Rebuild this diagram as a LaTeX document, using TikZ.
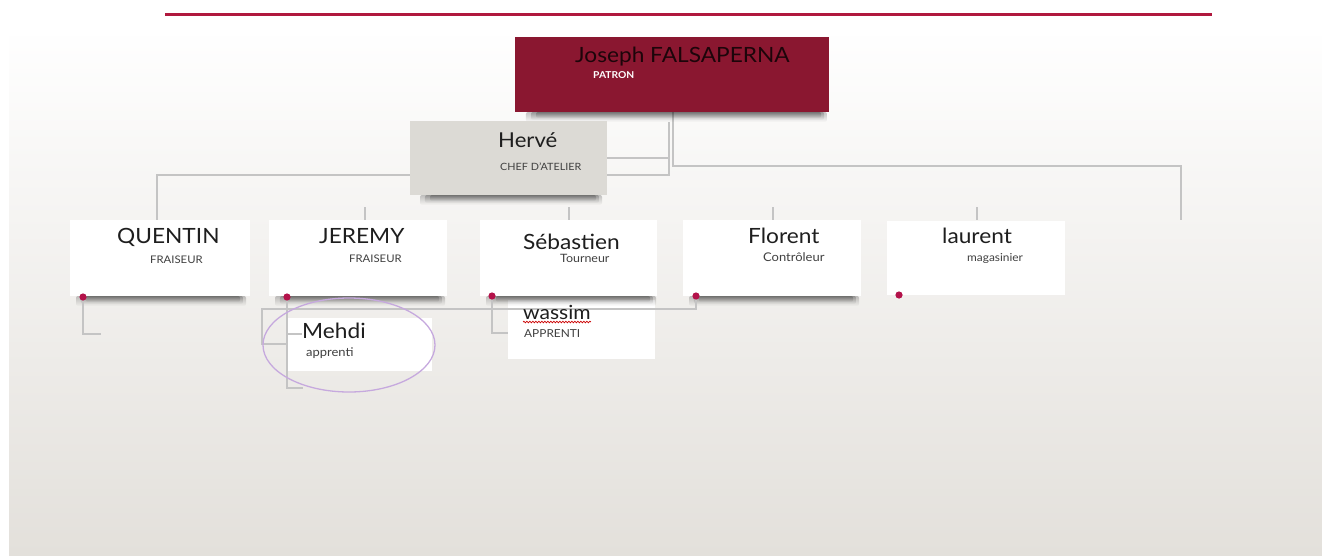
\documentclass[tikz,border=0pt]{standalone}
\usepackage{fontspec}
\setmainfont{Lato}[FakeStretch=1.08]
\usetikzlibrary{calc,fadings,decorations.pathmorphing}
\definecolor{maroon}{HTML}{8A1730}
\definecolor{topline}{HTML}{B0183E}
\definecolor{hervegray}{HTML}{DCDAD5}
\definecolor{linegray}{HTML}{C4C4C4}
\definecolor{dotred}{HTML}{B3124A}
\definecolor{txt}{HTML}{1E1E1E}
\definecolor{bgbot}{HTML}{E3E0DB}
\definecolor{ellcol}{HTML}{C6A9DE}
\tikzfading[name=shfade, top color=transparent!0, bottom color=transparent!100]
\tikzset{
  box/.style={draw=none, fill=white, inner sep=0pt, outer sep=0pt, anchor=north west},
  conn/.style={draw=linegray, line width=1.5pt},
  nm/.style={anchor=base west, inner sep=0pt, text=txt, font=\fontsize{21}{21}\selectfont},
  role/.style={anchor=base west, inner sep=0pt, text=txt!85, font=\fontsize{10.5}{10.5}\selectfont},
  rolelc/.style={role, font=\fontsize{12}{12}\selectfont},
  shadowst/.style={fill=black, path fading=shfade, opacity=0.22, rounded corners=2pt}
}
\newcommand\boxshadow[3]{% x1, x2, y
  \foreach \k in {0,1,2}{
    \fill[shadowst] (#1+6+\k*5,#3) rectangle (#2-2-\k*3,#3+10-\k*2);
  }
}
\begin{document}
\begin{tikzpicture}[x=1pt,y=-1pt]
\useasboundingbox (0,0) rectangle (1322,555);
% background
\fill[white] (0,0) rectangle (1322,555);
\shade[top color=white!98!bgbot, bottom color=bgbot] (9,36) rectangle (1322,555);
\draw[topline, line width=3pt] (165,14) -- (1212,14);

% named geometry
\coordinate (jodown) at (673,112);
\coordinate (jobend) at (673,166);
\coordinate (rightend) at (1181,166);
\coordinate (rightfoot) at (1181,220);
\coordinate (hv1) at (669,122);
\coordinate (hv2) at (669,175);
\coordinate (hvmid) at (669,158);
\coordinate (hvleft) at (605,158);
\coordinate (leftbend) at (157,175);
\coordinate (leftfoot) at (157,220);

% upper connectors (under boxes)
\draw[conn] (jodown) -- (jobend) -- (rightend) -- (rightfoot);
\draw[conn] (hv1) -- (hv2) -- (leftbend) -- (leftfoot);
\draw[conn] (hvleft) -- (hvmid);

% top boxes
\boxshadow{520}{829}{112}
\node[box, fill=maroon, minimum width=314pt, minimum height=75pt] (jo) at (515,37) {};
\boxshadow{414}{604}{195}
\node[box, fill=hervegray, minimum width=197pt, minimum height=74pt] (he) at (410,121) {};

% lower-level boxes first
\node[box, minimum width=144pt, minimum height=53pt] (me) at (288,318) {};
\node[box, minimum width=147pt, minimum height=59pt] (wa) at (508,300) {};

% row boxes
\foreach \x in {70, 269, 480, 683}{
  \boxshadow{\x}{\x+178}{296}
}
\node[box, minimum width=180pt, minimum height=76pt] (qu) at (70,220) {};
\node[box, minimum width=178pt, minimum height=76pt] (je) at (269,220) {};
\node[box, minimum width=177pt, minimum height=76pt] (se) at (480,220) {};
\node[box, minimum width=178pt, minimum height=76pt] (fl) at (683,220) {};
\node[box, minimum width=178pt, minimum height=74pt] (la) at (887,221) {};

% ticks
\foreach \x in {365, 569, 773, 977}{
  \draw[conn] (\x,207) -- (\x,220);
}

% dots
\coordinate (dq) at (83,297);
\coordinate (dj) at (287,297);
\coordinate (ds) at (492,296);
\coordinate (df) at (696,296);
\coordinate (dl) at (899,295);

% lower connectors
\coordinate (qfoot) at (83,334);
\coordinate (qend) at (101,334);
\draw[conn] (dq) -- (qfoot) -- (qend);
\coordinate (fbend) at (696,309);
\coordinate (lbend) at (262,309);
\coordinate (lfoot) at (262,344);
\draw[conn] (df) -- (fbend) -- (lbend) -- (lfoot) -- (me.west |- lfoot);
\coordinate (jfoot) at (287,388);
\coordinate (jend) at (303,388);
\coordinate (jmid) at (287,334);
\coordinate (jmidend) at (302,334);
\draw[conn] (dj) -- (jfoot) -- (jend);
\draw[conn] (jmid) -- (jmidend);
\coordinate (sfoot) at (492,333);
\draw[conn] (ds) -- (sfoot) -- (wa.west |- sfoot);

\foreach \d in {dq,dj,ds,df,dl}{ \fill[dotred] (\d) circle (3.6); }

% texts
\node[nm, text=black!80!maroon] (t1) at (575,62) {Joseph FALSAPERNA};
\node[role, text=white, font=\bfseries\fontsize{9.5}{9.5}\selectfont] (t2) at (593,78) {PATRON};
\node[nm, font=\fontsize{20.5}{20.5}\selectfont] (t3) at (498,147) {Hervé};
\node[role, font=\fontsize{10}{10}\selectfont] (t4) at (500,170) {CHEF D'ATELIER};
\node[nm] (t5) at (117,243) {QUENTIN};
\node[role] (t6) at (150,263) {FRAISEUR};
\node[nm] (t7) at (319,243) {JEREMY};
\node[role] (t8) at (349,262) {FRAISEUR};
\node[nm] (t9) at (523,249) {Sébastien};
\node[rolelc, font=\fontsize{11.5}{11.5}\selectfont] (t10) at (560,262) {Tourneur};
\node[nm] (t11) at (748,243) {Florent};
\node[rolelc] (t12) at (763,261) {Contrôleur};
\node[rolelc, font=\fontsize{11}{11}\selectfont] (t14) at (967,261) {magasinier};
\node[nm] (t13) at (942,243) {laurent};
\node[nm] (t15) at (302,338) {Mehdi};
\node[rolelc] (t16) at (306,356) {apprenti};
\node[nm, font=\fontsize{19.5}{19.5}\selectfont] (t17) at (523,319) {wassim};
\node[role, font=\fontsize{11}{11}\selectfont] (t18) at (524,337) {APPRENTI};
\draw[red!80!black, line width=0.7pt, decorate, decoration={snake, amplitude=0.8pt, segment length=3pt}] ($(t17.base west)+(0,3)$) -- ($(t17.base east)+(0,3)$);

% ellipse
\draw[ellcol, line width=1.3pt] (349,345) ellipse (86 and 47);
\end{tikzpicture}
\end{document}
